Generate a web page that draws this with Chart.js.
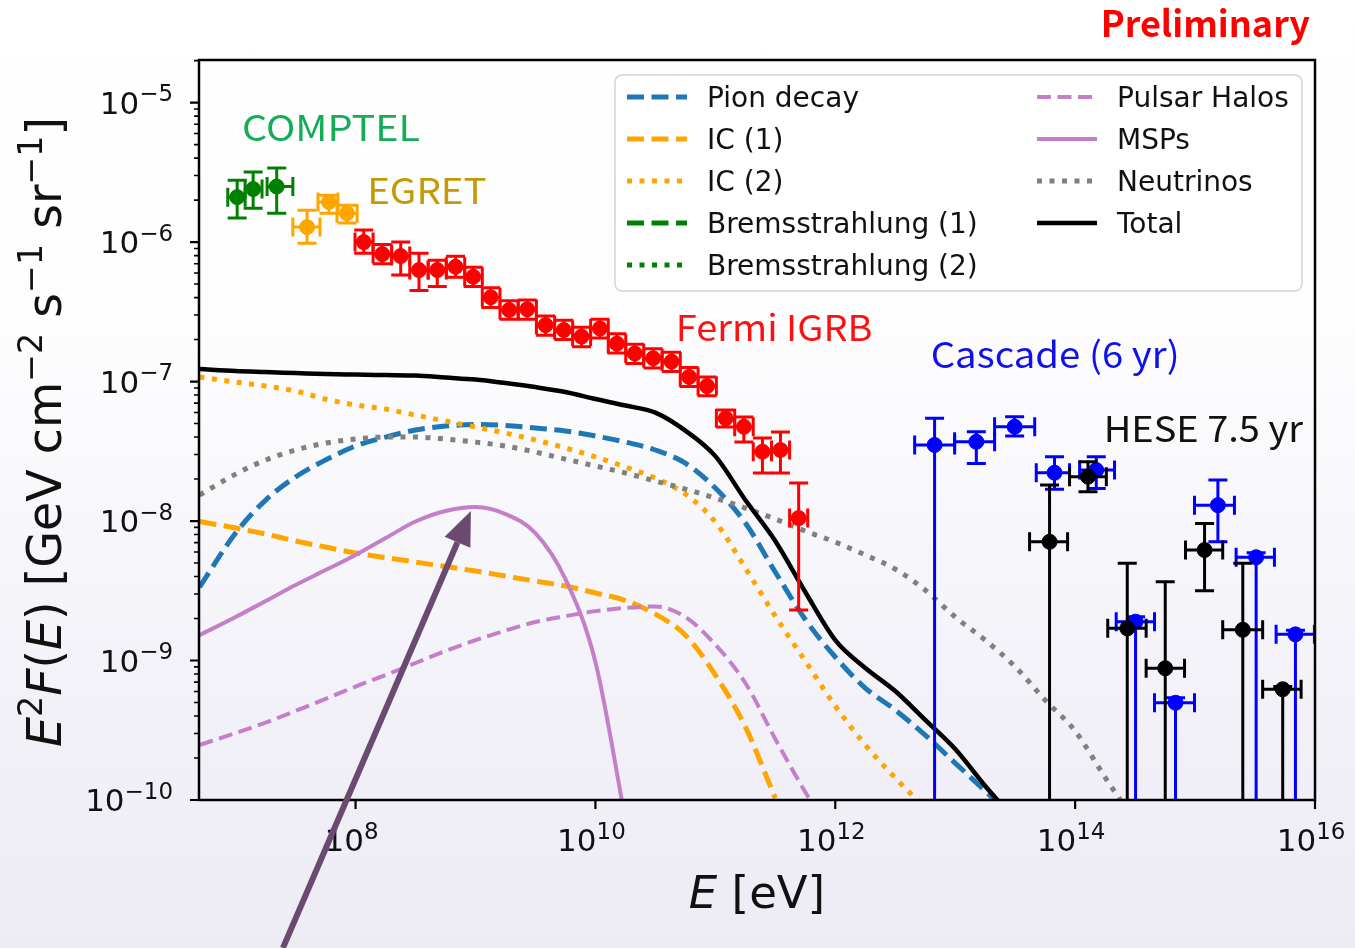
<!DOCTYPE html>
<html>
<head>
<meta charset="utf-8">
<script src="https://cdn.jsdelivr.net/npm/chart.js@4.4.1/dist/chart.umd.min.js"></script>
<style>
  html, body { margin: 0; padding: 0; }
  body {
    width: 1355px; height: 948px; overflow: hidden;
    background: linear-gradient(180deg, #ffffff 0%, #fdfdfe 35%, #f2f1f8 75%, #edecf5 100%);
  }
  canvas { display: block; }
</style>
</head>
<body>
<canvas id="sed" width="1355" height="948"></canvas>
<script>
// axis limits (eV, GeV cm^-2 s^-1 sr^-1)
const xMin = 4.95e6, xMax = 1e16;
const yMin = 1e-10, yMax = 2.02e-5;

const xTicks = [1e8, 1e10, 1e12, 1e14, 1e16];
const yTicks = [1e-10, 1e-9, 1e-8, 1e-7, 1e-6, 1e-5];

// shared energy grid for the model curves
const modelE = [5.0e6, 1.0e7, 1.78e7, 3.16e7, 5.62e7, 1.0e8, 1.78e8, 3.16e8, 5.62e8, 1.0e9,
  1.78e9, 3.16e9, 5.62e9, 1.0e10, 1.78e10, 3.16e10, 5.62e10, 1.0e11, 1.78e11, 3.16e11,
  5.62e11, 1.0e12, 1.78e12, 3.16e12, 5.62e12, 1.0e13, 1.78e13, 3.16e13, 5.62e13, 1.0e14,
  1.78e14, 3.16e14];

const pionF = [3.36e-9, 8.2e-9, 1.414e-8, 2.07e-8, 2.74e-8, 3.45e-8, 4.0e-8, 4.49e-8, 4.80e-8, 4.92e-8,
  4.84e-8, 4.64e-8, 4.42e-8, 4.07e-8, 3.68e-8, 3.23e-8, 2.60e-8, 1.724e-8, 9.68e-9, 4.31e-9,
  1.97e-9, 1.06e-9, 6.35e-10, 4.42e-10, 2.92e-10, 1.84e-10, 1.16e-10, 7.2e-11];
const ic1F = [9.92e-9, 8.91e-9, 8.07e-9, 7.19e-9, 6.51e-9, 5.90e-9, 5.47e-9, 5.08e-9, 4.72e-9, 4.38e-9,
  4.03e-9, 3.71e-9, 3.42e-9, 3.05e-9, 2.69e-9, 2.15e-9, 1.52e-9, 7.87e-10, 3.34e-10, 1.03e-10];
const ic2F = [1.077e-7, 9.92e-8, 9.28e-8, 8.55e-8, 7.49e-8, 6.79e-8, 6.35e-8, 5.75e-8, 5.21e-8, 4.72e-8,
  4.27e-8, 3.81e-8, 3.34e-8, 2.88e-8, 2.44e-8, 2.03e-8, 1.561e-8, 9.84e-9, 4.60e-9, 2.08e-9,
  9.92e-10, 4.72e-10, 2.48e-10, 1.44e-10, 8.77e-11];
const brems1F = [];
const brems2F = [];
const halosF = [2.48e-10, 3.02e-10, 3.59e-10, 4.35e-10, 5.30e-10, 6.51e-10, 7.87e-10, 9.60e-10, 1.17e-9, 1.40e-9,
  1.64e-9, 1.89e-9, 2.08e-9, 2.26e-9, 2.38e-9, 2.44e-9, 2.05e-9, 1.30e-9, 6.90e-10, 2.74e-10,
  1.14e-10, 5.2e-11];
const mspF = [1.52e-9, 2.05e-9, 2.67e-9, 3.48e-9, 4.45e-9, 5.71e-9, 7.55e-9, 9.92e-9, 1.179e-8, 1.26e-8,
  1.122e-8, 8.20e-9, 3.84e-9, 9.75e-10, 7.2e-11];
const nuF = [1.536e-8, 2.17e-8, 2.74e-8, 3.23e-8, 3.62e-8, 3.87e-8, 4.0e-8, 4.0e-8, 3.87e-8, 3.68e-8,
  3.45e-8, 3.12e-8, 2.78e-8, 2.48e-8, 2.21e-8, 1.935e-8, 1.696e-8, 1.46e-8, 1.239e-8, 1.033e-8,
  8.48e-9, 7.07e-9, 5.71e-9, 4.53e-9, 3.20e-9, 2.05e-9, 1.40e-9, 9.03e-10, 5.21e-10, 3.12e-10,
  1.45e-10, 7.0e-11];
const totalF = [1.229e-7, 1.19e-7, 1.17e-7, 1.151e-7, 1.132e-7, 1.122e-7, 1.113e-7, 1.104e-7, 1.068e-7, 1.033e-7,
  9.75e-8, 9.13e-8, 8.41e-8, 7.49e-8, 6.73e-8, 5.99e-8, 4.45e-8, 2.92e-8, 1.414e-8, 7.19e-9,
  3.10e-9, 1.40e-9, 8.84e-10, 6.04e-10, 3.75e-10, 2.32e-10, 1.26e-10, 7.2e-11];

// COMPTEL
const comptelE = [1.03e7, 1.4e7, 2.2e7];
const comptelF = [2.1e-6, 2.4e-6, 2.5e-6];
const comptelFLo = [1.49e-6, 1.75e-6, 1.61e-6];
const comptelFHi = [2.78e-6, 3.18e-6, 3.39e-6];
const comptelELo = [8.6e6, 1.2e7, 1.83e7];
const comptelEHi = [1.2e7, 1.66e7, 3.0e7];

// EGRET
const egretE = [3.94e7, 6.0e7, 8.47e7];
const egretF = [1.28e-6, 1.94e-6, 1.61e-6];
const egretFLo = [9.8e-7, 1.61e-6, 1.37e-6];
const egretFHi = [1.69e-6, 2.17e-6, 1.84e-6];
const egretELo = [3.0e7, 4.86e7, 7.0e7];
const egretEHi = [5.05e7, 7.13e7, 1.03e8];

// Fermi IGRB, contiguous energy bins
const fermiE = [1.17e8, 1.67e8, 2.38e8, 3.38e8, 4.8e8, 6.82e8, 9.57e8, 1.34e9, 1.91e9, 2.7e9,
  3.84e9, 5.45e9, 7.66e9, 1.09e10, 1.51e10, 2.13e10, 3.03e10, 4.31e10, 6.04e10, 8.53e10,
  1.22e11, 1.73e11, 2.47e11, 3.49e11, 4.95e11];
const fermiF = [1.0e-6, 8.2e-7, 7.94e-7, 6.3e-7, 6.3e-7, 6.65e-7, 5.64e-7, 4.02e-7, 3.26e-7, 3.3e-7,
  2.54e-7, 2.34e-7, 2.1e-7, 2.4e-7, 1.87e-7, 1.59e-7, 1.47e-7, 1.39e-7, 1.08e-7, 9.28e-8,
  5.45e-8, 4.74e-8, 3.14e-8, 3.23e-8, 1.05e-8];
const fermiFLo = [8.3e-7, 7.0e-7, 5.8e-7, 4.5e-7, 4.8e-7, 5.6e-7, 4.8e-7, 3.4e-7, 2.8e-7, 2.8e-7,
  2.15e-7, 2.0e-7, 1.78e-7, 2.05e-7, 1.6e-7, 1.35e-7, 1.25e-7, 1.18e-7, 9.2e-8, 7.9e-8,
  4.72e-8, 3.68e-8, 2.21e-8, 2.21e-8, 2.3e-9];
const fermiFHi = [1.22e-6, 9.6e-7, 1.0e-6, 8.3e-7, 7.4e-7, 7.9e-7, 6.6e-7, 4.7e-7, 3.8e-7, 3.85e-7,
  2.95e-7, 2.75e-7, 2.45e-7, 2.8e-7, 2.2e-7, 1.85e-7, 1.72e-7, 1.62e-7, 1.26e-7, 1.08e-7,
  6.25e-8, 5.56e-8, 3.94e-8, 4.35e-8, 1.87e-8];
const fermiEdges = [9.9e7, 1.4e8, 2.0e8, 2.83e8, 4.03e8, 5.71e8, 8.13e8, 1.14e9, 1.6e9, 2.27e9,
  3.22e9, 4.57e9, 6.46e9, 9.12e9, 1.28e10, 1.79e10, 2.53e10, 3.6e10, 5.1e10, 7.18e10,
  1.02e11, 1.45e11, 2.07e11, 2.94e11, 4.16e11, 5.89e11];

// IceCube cascade (6 yr); a lower flux of 0 means the bar runs to zero
const cascadeE = [6.73e12, 1.5e13, 3.13e13, 6.73e13, 1.5e14, 3.19e14, 6.87e14, 1.55e15, 3.23e15, 6.87e15];
const cascadeF = [3.51e-8, 3.7e-8, 4.74e-8, 2.22e-8, 2.32e-8, 1.9e-9, 4.98e-10, 1.30e-8, 5.5e-9, 1.54e-9];
const cascadeFLo = [0, 2.59e-8, 4.07e-8, 1.69e-8, 1.71e-8, 0, 0, 7.1e-9, 0, 0];
const cascadeFHi = [5.45e-8, 4.36e-8, 5.6e-8, 2.89e-8, 2.89e-8, 2.06e-9, 5.4e-10, 1.97e-8, 5.93e-9, 1.65e-9];
const cascadeELo = [4.59e12, 9.89e12, 2.13e13, 4.74e13, 1.09e14, 2.2e14, 4.59e14, 9.89e14, 2.2e15, 4.74e15];
const cascadeEHi = [9.89e12, 2.13e13, 4.6e13, 8.98e13, 2.13e14, 4.59e14, 9.89e14, 2.13e15, 4.59e15, 9.89e15];

// IceCube HESE 7.5 yr
const heseE = [6.12e13, 1.28e14, 2.72e14, 5.64e14, 1.2e15, 2.5e15, 5.38e15];
const heseF = [7.1e-9, 2.08e-8, 1.70e-9, 8.8e-10, 6.2e-9, 1.66e-9, 6.22e-10];
const heseFLo = [0, 1.62e-8, 0, 0, 3.16e-9, 0, 0];
const heseFHi = [1.81e-8, 2.66e-8, 4.98e-9, 3.67e-9, 9.6e-9, 4.98e-9, 6.5e-10];
const heseELo = [4.17e13, 8.98e13, 1.87e14, 3.91e14, 8.32e14, 1.7e15, 3.66e15];
const heseEHi = [8.65e13, 1.82e14, 3.91e14, 8.17e14, 1.7e15, 3.66e15, 7.66e15];

// text labels anchored in data coordinates (left edge, baseline)
const notes = [
  { text: 'COMPTEL', e: 1.13e7, f: 5.3e-6, color: '#12ad55', stretch: 1.1 },
  { text: 'EGRET', e: 1.25e8, f: 1.87e-6, color: '#c39a06', stretch: 1.07 },
  { text: 'Fermi IGRB', e: 4.68e10, f: 1.95e-7, color: '#ff1010', stretch: 1.055 },
  { text: 'Cascade (6 yr)', e: 6.24e12, f: 1.25e-7, color: '#1010ee', stretch: 1.065 },
  { text: 'HESE 7.5 yr', e: 1.73e14, f: 3.68e-8, color: '#111111', stretch: 1.055 }
];
// arrow pointing at the MSP peak
const arrowFrom = [2.48e7, 8.7e-12];
const arrowTo = [9.16e8, 1.18e-8];

const PINK = '#c47fc9';
const MATH = "'DejaVu Sans'";
const JP = "'Noto Sans CJK JP'";

const pairs = (xs, ys) => ys.map((y, i) => ({ x: xs[i], y }));

function curve(label, values, color, dash, width, order) {
  return {
    label, data: pairs(modelE, values), showLine: true, borderColor: color,
    borderWidth: width, borderDash: dash, pointRadius: 0, fill: false,
    cubicInterpolationMode: 'monotone', clip: 0, order
  };
}

function points(label, xs, ys, color, err) {
  return {
    label, data: pairs(xs, ys), showLine: false, pointRadius: 7.5,
    pointBackgroundColor: color, pointBorderColor: color, pointBorderWidth: 1,
    clip: 0, order: 0, errorBars: err, errColor: color
  };
}

const DASH = [17, 7.5], DOT = [5, 7.5];
const curves = {
  pion: curve('Pion decay', pionF, '#1f77b4', DASH, 5, 8),
  ic1: curve('IC (1)', ic1F, '#ffa500', DASH, 5, 7),
  ic2: curve('IC (2)', ic2F, '#ffa500', DOT, 5, 6),
  brems1: curve('Bremsstrahlung (1)', brems1F, '#008000', DASH, 5, 5),
  brems2: curve('Bremsstrahlung (2)', brems2F, '#008000', DOT, 5, 5),
  halos: curve('Pulsar Halos', halosF, PINK, [14, 6.5], 4, 4),
  msp: curve('MSPs', mspF, PINK, [], 4, 3),
  nu: curve('Neutrinos', nuF, '#808080', DOT, 5, 2),
  total: curve('Total', totalF, '#000000', [], 4.5, 1)
};

// binned Fermi energies to low/high edges
const fermiELo = fermiEdges.slice(0, -1);
const fermiEHi = fermiEdges.slice(1);

const datasets = [
  points('COMPTEL', comptelE, comptelF, '#008000',
    { fLo: comptelFLo, fHi: comptelFHi, eLo: comptelELo, eHi: comptelEHi }),
  points('EGRET', egretE, egretF, '#ffa500',
    { fLo: egretFLo, fHi: egretFHi, eLo: egretELo, eHi: egretEHi }),
  points('Fermi IGRB', fermiE, fermiF, '#ff0000',
    { fLo: fermiFLo, fHi: fermiFHi, eLo: fermiELo, eHi: fermiEHi }),
  points('HESE', heseE, heseF, '#000000',
    { fLo: heseFLo, fHi: heseFHi, eLo: heseELo, eHi: heseEHi }),
  points('Cascade', cascadeE, cascadeF, '#0000ff',
    { fLo: cascadeFLo, fHi: cascadeFHi, eLo: cascadeELo, eHi: cascadeEHi }),
  curves.total, curves.nu, curves.msp, curves.halos, curves.brems2, curves.brems1,
  curves.ic2, curves.ic1, curves.pion
];

// legend layout: two columns, filled top to bottom
const legendCols = [
  [curves.pion, curves.ic1, curves.ic2, curves.brems1, curves.brems2],
  [curves.halos, curves.msp, curves.nu, curves.total]
];

// draw a run of text pieces, some italic and some raised as superscripts
function drawMath(ctx, parts, x, y, size, align, supScale = 0.7) {
  const supSize = size * supScale, rise = size * 0.4;
  const fonts = parts.map(p => `${p.it ? 'italic ' : ''}${p.sup ? supSize : size}px ${MATH}`);
  const widths = parts.map((p, i) => { ctx.font = fonts[i]; return ctx.measureText(p.t).width; });
  const total = widths.reduce((a, b) => a + b, 0);
  let cx = align === 'center' ? x - total / 2 : align === 'right' ? x - total : x;
  ctx.textAlign = 'left';
  ctx.textBaseline = 'alphabetic';
  parts.forEach((p, i) => {
    ctx.font = fonts[i];
    ctx.fillText(p.t, cx, p.sup ? y - rise : y);
    cx += widths[i];
  });
}

function powerParts(v) {
  const n = Math.round(Math.log10(v));
  return [{ t: '10' }, { t: (n < 0 ? '\u2212' : '') + Math.abs(n), sup: true }];
}

const errorBarPlugin = {
  id: 'errorBars',
  beforeDatasetDraw(chart, args) {
    const ds = chart.data.datasets[args.index];
    if (!ds.errorBars) return;
    const { ctx, chartArea: a, scales: { x: sx, y: sy } } = chart;
    const err = ds.errorBars, cap = 9.5;
    ctx.save();
    ctx.beginPath();
    ctx.rect(a.left, a.top, a.right - a.left, a.bottom - a.top);
    ctx.clip();
    ctx.strokeStyle = ds.errColor;
    ctx.lineWidth = 3;
    ds.data.forEach((p, i) => {
      const px = sx.getPixelForValue(p.x), py = sy.getPixelForValue(p.y);
      const yHi = sy.getPixelForValue(err.fHi[i]);
      const toZero = !(err.fLo[i] > 0);
      const yLo = toZero ? a.bottom + 10 : sy.getPixelForValue(err.fLo[i]);
      const xLo = sx.getPixelForValue(err.eLo[i]), xHi = sx.getPixelForValue(err.eHi[i]);
      ctx.beginPath();
      ctx.moveTo(px, yHi); ctx.lineTo(px, yLo);
      ctx.moveTo(xLo, py); ctx.lineTo(xHi, py);
      ctx.moveTo(px - cap, yHi); ctx.lineTo(px + cap, yHi);
      if (!toZero) { ctx.moveTo(px - cap, yLo); ctx.lineTo(px + cap, yLo); }
      ctx.moveTo(xLo, py - cap); ctx.lineTo(xLo, py + cap);
      ctx.moveTo(xHi, py - cap); ctx.lineTo(xHi, py + cap);
      ctx.stroke();
    });
    ctx.restore();
  }
};

const axesPlugin = {
  id: 'axesFrame',
  afterDatasetsDraw(chart) {
    const { ctx, chartArea: a, scales: { x: sx, y: sy } } = chart;
    ctx.save();
    ctx.strokeStyle = '#000';
    ctx.fillStyle = '#111';
    ctx.lineWidth = 2.5;
    ctx.strokeRect(a.left, a.top, a.right - a.left, a.bottom - a.top);

    // y ticks: majors at decades, minors at 2..9
    ctx.beginPath();
    ctx.lineWidth = 2.2;
    yTicks.forEach(v => {
      const py = sy.getPixelForValue(v);
      ctx.moveTo(a.left, py); ctx.lineTo(a.left - 9, py);
    });
    ctx.stroke();
    ctx.beginPath();
    ctx.lineWidth = 1.6;
    for (let n = -10; n <= -5; n++) {
      for (let k = 2; k <= 9; k++) {
        const v = k * Math.pow(10, n);
        if (v > yMax) continue;
        const py = sy.getPixelForValue(v);
        ctx.moveTo(a.left, py); ctx.lineTo(a.left - 5, py);
      }
    }
    ctx.stroke();
    ctx.beginPath();
    ctx.lineWidth = 2.2;
    xTicks.forEach(v => {
      const px = sx.getPixelForValue(v);
      ctx.moveTo(px, a.bottom); ctx.lineTo(px, a.bottom + 9);
    });
    ctx.stroke();

    yTicks.forEach(v => drawMath(ctx, powerParts(v), a.left - 26, sy.getPixelForValue(v) + 11, 31, 'right', 0.74));
    xTicks.forEach(v => drawMath(ctx, powerParts(v), sx.getPixelForValue(v) - 4, a.bottom + 51, 31, 'center', 0.74));

    // axis titles
    drawMath(ctx, [{ t: 'E', it: true }, { t: ' [eV]' }], (a.left + a.right) / 2, a.bottom + 108, 45, 'center');
    ctx.save();
    ctx.translate(61, (a.top + a.bottom) / 2 + 2);
    ctx.rotate(-Math.PI / 2);
    drawMath(ctx, [
      { t: 'E', it: true }, { t: '2', sup: true }, { t: 'F', it: true }, { t: '(' },
      { t: 'E', it: true }, { t: ') [GeV cm' }, { t: '\u22122', sup: true }, { t: ' s' },
      { t: '\u22121', sup: true }, { t: ' sr' }, { t: '\u22121', sup: true }, { t: ']' }
    ], 0, 0, 47.5, 'center');
    ctx.restore();
    ctx.restore();
  }
};

const overlayPlugin = {
  id: 'overlay',
  afterDraw(chart) {
    const { ctx, scales: { x: sx, y: sy } } = chart;
    ctx.save();

    // legend box
    const lx = 615, ly = 75, lw = 687, lh = 216;
    ctx.beginPath();
    ctx.roundRect(lx, ly, lw, lh, 7);
    ctx.fillStyle = 'rgba(255,255,255,0.85)';
    ctx.fill();
    ctx.strokeStyle = '#d4d4d4';
    ctx.lineWidth = 1.5;
    ctx.stroke();
    const colX = [627, 1037], rowY = [97, 139, 181, 223, 265];
    legendCols.forEach((col, c) => col.forEach((ds, r) => {
      const y = rowY[r];
      ctx.beginPath();
      ctx.strokeStyle = ds.borderColor;
      ctx.lineWidth = ds.borderWidth;
      ctx.setLineDash(ds.borderDash);
      ctx.moveTo(colX[c], y); ctx.lineTo(colX[c] + 60, y);
      ctx.stroke();
      ctx.setLineDash([]);
      ctx.fillStyle = '#111';
      ctx.font = `28px ${MATH}`;
      ctx.textAlign = 'left';
      ctx.textBaseline = 'alphabetic';
      ctx.fillText(ds.label, colX[c] + 80, y + 10);
    }));

    // data-set labels
    ctx.font = `36px ${JP}`;
    notes.forEach(n => {
      ctx.save();
      ctx.fillStyle = n.color;
      ctx.translate(sx.getPixelForValue(n.e), sy.getPixelForValue(n.f));
      ctx.scale(n.stretch, 1);
      ctx.fillText(n.text, 0, 0);
      ctx.restore();
    });

    ctx.font = `bold 36px ${JP}`;
    ctx.fillStyle = '#ff0000';
    ctx.textAlign = 'right';
    ctx.fillText('Preliminary', 1310, 37);

    // arrow
    const x0 = sx.getPixelForValue(arrowFrom[0]), y0 = sy.getPixelForValue(arrowFrom[1]);
    const x1 = sx.getPixelForValue(arrowTo[0]), y1 = sy.getPixelForValue(arrowTo[1]);
    const ang = Math.atan2(y1 - y0, x1 - x0), head = 34, half = 14;
    const bx = x1 - head * Math.cos(ang), by = y1 - head * Math.sin(ang);
    ctx.strokeStyle = '#6b4a70';
    ctx.fillStyle = '#6b4a70';
    ctx.lineWidth = 6;
    ctx.beginPath();
    ctx.moveTo(x0, y0); ctx.lineTo(bx, by);
    ctx.stroke();
    ctx.beginPath();
    ctx.moveTo(x1, y1);
    ctx.lineTo(bx + half * Math.sin(ang), by - half * Math.cos(ang));
    ctx.lineTo(bx - half * Math.sin(ang), by + half * Math.cos(ang));
    ctx.closePath();
    ctx.fill();
    ctx.restore();
  }
};

new Chart(document.getElementById('sed'), {
  type: 'scatter',
  data: { datasets },
  options: {
    responsive: false,
    animation: false,
    devicePixelRatio: 1,
    events: [],
    layout: { padding: { left: 199, top: 60, right: 40, bottom: 148 } },
    scales: {
      x: { type: 'logarithmic', min: xMin, max: xMax, display: false },
      y: { type: 'logarithmic', min: yMin, max: yMax, display: false }
    },
    plugins: { legend: { display: false }, tooltip: { enabled: false } }
  },
  plugins: [errorBarPlugin, axesPlugin, overlayPlugin]
});
</script>
</body>
</html>
